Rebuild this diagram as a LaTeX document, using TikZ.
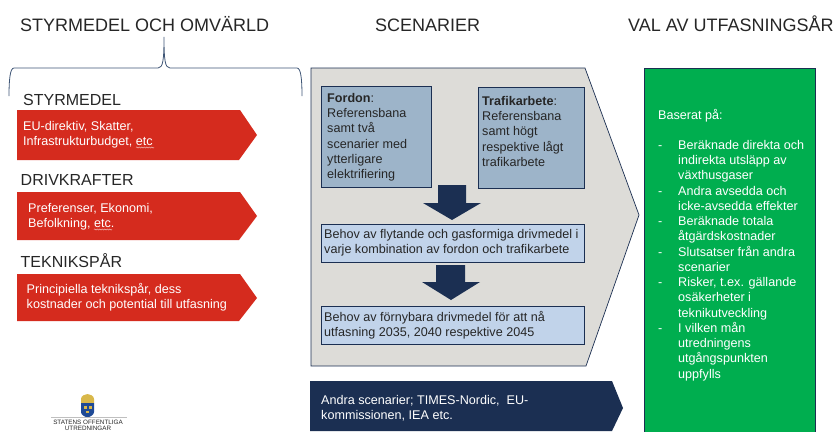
\documentclass[tikz,border=0pt]{standalone}
\usepackage{fontspec}
\setmainfont{Liberation Sans}
\usetikzlibrary{decorations.pathmorphing}
\definecolor{redbox}{HTML}{D52B1E}
\definecolor{grayback}{HTML}{DDDCD8}
\definecolor{steelbox}{HTML}{9DB4C9}
\definecolor{lightbox}{HTML}{C1D3EA}
\definecolor{navy}{HTML}{1B2F52}
\definecolor{greenbox}{HTML}{00AE4F}
\definecolor{inktext}{HTML}{262626}
\definecolor{bracecol}{HTML}{3F5676}
\definecolor{goldcol}{HTML}{D9B84A}
\definecolor{shieldcol}{HTML}{1F4A96}
\newcommand{\firststrut}{\rule{0pt}{10pt}}
\tikzset{
  x=1pt,y=-1pt,
  heading/.style={inner sep=0pt,anchor=base west,text=inktext,font=\fontsize{18}{20}\selectfont},
  subheading/.style={inner sep=0pt,anchor=base west,text=inktext,font=\fontsize{16}{18}\selectfont},
  body/.style={inner sep=0pt,anchor=north west,align=left,font=\fontsize{12.6}{15.27}\selectfont},
  darktext/.style={body,text=inktext},
  whitetext/.style={body,text=white},
  framed/.style={draw=navy,line width=0.8pt},
  wavy/.style={draw=white!65!redbox,line width=0.5pt,decorate,decoration={snake,amplitude=0.6pt,segment length=2.5pt}}
}
\begin{document}
\begin{tikzpicture}
\useasboundingbox (0,0) rectangle (835,431);
% headings
\node[heading] (h1) at (20,31) {STYRMEDEL OCH OMVÄRLD};
\node[heading] (h2) at (375,31) {SCENARIER};
\node[heading] (h3) at (628,31) {VAL AV UTFASNINGSÅR};
% brace
\draw[bracecol,line width=0.8pt] (9,96) .. controls (9,80) and (10,68) .. (14,68)
  -- (158,68) .. controls (163,68) and (164,60) .. (164,37)
  .. controls (164,60) and (165,68) .. (170,68) -- (297,68)
  .. controls (301,68) and (302,80) .. (302,96);
% left column
\node[subheading] (s1) at (23,105.5) {STYRMEDEL};
\node[subheading] (s2) at (20.5,185) {DRIVKRAFTER};
\node[subheading] (s3) at (20.5,267) {TEKNIKSPÅR};
\fill[redbox] (17,110) -- (240,110) -- (257,135) -- (239,160) -- (17,160) -- cycle;
\fill[redbox] (17,192) -- (240,192) -- (257,216) -- (239,240) -- (17,240) -- cycle;
\fill[redbox] (17,274) -- (240,274) -- (257,298) -- (239,321) -- (17,321) -- cycle;
\node[whitetext] (r1) at (23,120) {\firststrut EU-direktiv, Skatter,\\Infrastrukturbudget, etc};
\node[whitetext] (r2) at (28,202) {\firststrut Preferenser, Ekonomi,\\Befolkning, etc.};
\node[whitetext] (r3) at (26.5,283) {\firststrut Principiella teknikspår, dess\\kostnader och potential till utfasning};
\draw[wavy] (136,147.5) -- (154,147.5);
\draw[wavy] (94,229.5) -- (112,229.5);
% logo
\fill[goldcol] (81,403) -- (81,399) .. controls (81,395.5) and (85,394.5) .. (87.5,394) .. controls (90,394.5) and (94,395.5) .. (94,399) -- (94,403) -- cycle;
\fill[shieldcol] (81,403) -- (94,403) -- (94,412) .. controls (94,415) and (90,416.5) .. (87.5,418) .. controls (85,416.5) and (81,415) .. (81,412) -- cycle;
\fill[goldcol] (83.5,406) rectangle (86.5,408.5);
\fill[goldcol] (88.5,406) rectangle (91.5,408.5);
\fill[goldcol] (86,410.5) rectangle (89,413);
\draw[gray!50,line width=0.6pt] (51,417.5) -- (127,417.5);
\node[inner sep=0pt,anchor=base,text=inktext,font=\fontsize{6.3}{7}\selectfont] (l1) at (88,424) {STATENS OFFENTLIGA};
\node[inner sep=0pt,anchor=base,text=inktext,font=\fontsize{6.3}{7}\selectfont] (l2) at (88,430.2) {UTREDNINGAR};
% middle
\filldraw[fill=grayback,draw=navy,line width=0.7pt] (311,68) -- (585,68) -- (639,215) -- (586,366) -- (311,366) -- cycle;
\filldraw[fill=steelbox,framed] (321,86) rectangle (431,187);
\filldraw[fill=steelbox,framed] (478,87) rectangle (584,188);
\fill[navy] (438,185) -- (466,185) -- (466,203) -- (481,203) -- (452,220) -- (423,203) -- (438,203) -- cycle;
\filldraw[fill=lightbox,framed] (321,224) rectangle (584,262);
\fill[navy] (436,265) -- (465,265) -- (465,282) -- (480,282) -- (451,300) -- (422,282) -- (436,282) -- cycle;
\filldraw[fill=lightbox,framed] (321,306) rectangle (584,344);
\fill[navy] (310,381) -- (612,381) -- (623,408) -- (612,431) -- (310,431) -- cycle;
\node[darktext] (t1) at (327,92) {\firststrut\textbf{Fordon}:\\Referensbana\\samt två\\scenarier med\\ytterligare\\elektrifiering};
\node[darktext] (t2) at (482,95) {\firststrut\textbf{Trafikarbete}:\\Referensbana\\samt högt\\respektive lågt\\trafikarbete};
\node[darktext] (t3) at (324,228) {\firststrut Behov av flytande och gasformiga drivmedel i\\varje kombination av fordon och trafikarbete};
\node[darktext] (t4) at (324,311) {\firststrut Behov av förnybara drivmedel för att nå\\utfasning 2035, 2040 respektive 2045};
\node[whitetext] (t5) at (321,394) {\firststrut Andra scenarier; TIMES-Nordic,\ \ EU-\\kommissionen, IEA etc.};
% right
\filldraw[fill=greenbox,draw=navy,line width=0.5pt] (644,68) rectangle (815,432);
\newcommand{\dashline}{\makebox[20pt][l]{-}}
\newcommand{\plainline}{\hspace*{20pt}}
\node[whitetext] (g1) at (658,109) {\firststrut Baserat på:};
\node[whitetext] (g2) at (658,139) {\firststrut\dashline Beräknade direkta och\\\plainline indirekta utsläpp av\\\plainline växthusgaser\\\dashline Andra avsedda och\\\plainline icke-avsedda effekter\\\dashline Beräknade totala\\\plainline åtgärdskostnader\\\dashline Slutsatser från andra\\\plainline scenarier\\\dashline Risker, t.ex. gällande\\\plainline osäkerheter i\\\plainline teknikutveckling\\\dashline I vilken mån\\\plainline utredningens\\\plainline utgångspunkten\\\plainline uppfylls};
\end{tikzpicture}
\end{document}
